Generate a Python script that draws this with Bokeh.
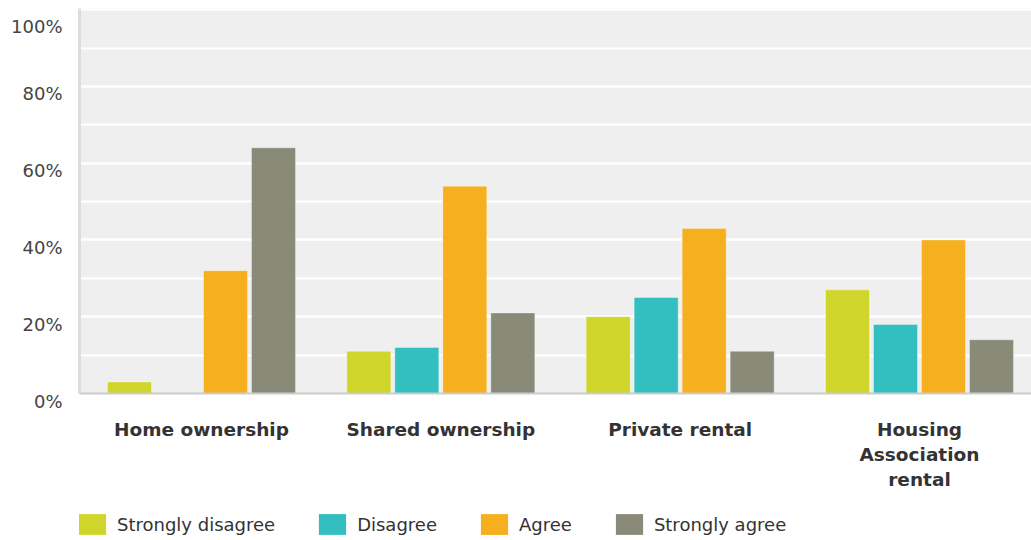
from bokeh.plotting import figure
from bokeh.models import (Range1d, FixedTicker, SingleIntervalTicker, Legend,
                          LegendItem, ColumnDataSource)
from bokeh.layouts import column
from bokeh.embed import file_html
from bokeh.resources import INLINE
import numpy as np

# ---- data ----
categories = ["Home ownership", "Shared ownership", "Private rental",
              "Housing\nAssociation\nrental"]
series = ["Strongly disagree", "Disagree", "Agree", "Strongly agree"]
strongly_disagree = [3, 11, 20, 27]
disagree = [0, 12, 25, 18]
agree = [32, 54, 43, 40]
strongly_agree = [64, 21, 11, 14]
y_tick_values = [0, 20, 40, 60, 80, 100]
y_tick_labels = ["0%", "20%", "40%", "60%", "80%", "100%"]
colors = ["#cfd52b", "#33bebf", "#f5af1f", "#8a8a78"]

values = [strongly_disagree, disagree, agree, strongly_agree]

# ---- layout constants ----
unit_px = 239.33
bar_w = 44 / unit_px
step = 48 / unit_px

p = figure(width=1031, height=500, output_backend="svg", toolbar_location=None,
           x_range=Range1d(-0.0098, 3.968), y_range=Range1d(0, 100.3),
           min_border_left=79, min_border_right=0, min_border_top=8,
           min_border_bottom=107)
p.background_fill_color = "#efefef"
p.border_fill_color = "white"
p.outline_line_color = None

centers = np.arange(len(categories)) + 0.5
for i, (name, vals, c) in enumerate(zip(series, values, colors)):
    src = ColumnDataSource(dict(x=centers + (i - 1.5) * step, top=vals))
    p.vbar(x="x", top="top", width=bar_w, source=src, fill_color=c,
           line_color="white", line_alpha=0.35, line_width=1)

# x axis
xa = p.xaxis[0]
xa.ticker = FixedTicker(ticks=list(centers))
xa.major_label_overrides = {float(c): cat for c, cat in zip(centers, categories)}
xa.major_label_text_font = "DejaVu Sans"
xa.major_label_text_font_style = "bold"
xa.major_label_text_font_size = "18.5px"
xa.major_label_text_color = "#333333"
xa.major_label_text_line_height = 1.2
xa.major_label_standoff = 25
xa.axis_line_color = "#cccccc"
xa.axis_line_width = 2
xa.major_tick_out = 0
xa.major_tick_in = 0
xa.minor_tick_out = 0
xa.minor_tick_in = 0

# y axis
ya = p.yaxis[0]
ya.ticker = SingleIntervalTicker(interval=20, num_minor_ticks=2)
ya.major_label_overrides = {v: "\n" + lab for v, lab in zip(y_tick_values, y_tick_labels)}
ya.major_label_text_font = "DejaVu Sans"
ya.major_label_text_font_size = "18px"
ya.major_label_text_color = "#444444"
ya.major_label_text_line_height = 0.72
ya.major_label_standoff = 17
ya.axis_line_color = "#dddddd"
ya.axis_line_width = 3
ya.major_tick_out = 0
ya.major_tick_in = 0
ya.minor_tick_out = 0
ya.minor_tick_in = 0

p.xgrid.grid_line_color = None
p.ygrid.grid_line_color = "white"
p.ygrid.grid_line_width = 2
p.ygrid.minor_grid_line_color = "white"
p.ygrid.minor_grid_line_width = 2

# ---- legend strip (separate figure below the chart) ----
lg = figure(width=1031, height=40, output_backend="svg", toolbar_location=None,
            x_axis_type=None, y_axis_type=None, min_border=0,
            x_range=Range1d(0, 1), y_range=Range1d(0, 1))
lg.outline_line_color = None
lg.background_fill_color = None
lg.border_fill_color = None
lg.grid.visible = False
items = []
for name, c in zip(series, colors):
    # legend key only: a single off-range point so the key swatch is drawn
    r = lg.vbar(x=[5], top=[1], width=0.1, fill_color=c, line_color=None)
    items.append(LegendItem(label=name, renderers=[r]))
legend = Legend(items=items, orientation="horizontal", location=(-4, 3),
                glyph_width=34, glyph_height=26, label_standoff=8, spacing=40,
                padding=0, margin=0, border_line_color=None,
                background_fill_alpha=0,
                label_text_font="DejaVu Sans", label_text_font_size="18px",
                label_text_color="#333333")
lg.add_layout(legend, "center")

layout = column(p, lg, spacing=0)
open("out.html", "w").write(file_html(layout, INLINE))
